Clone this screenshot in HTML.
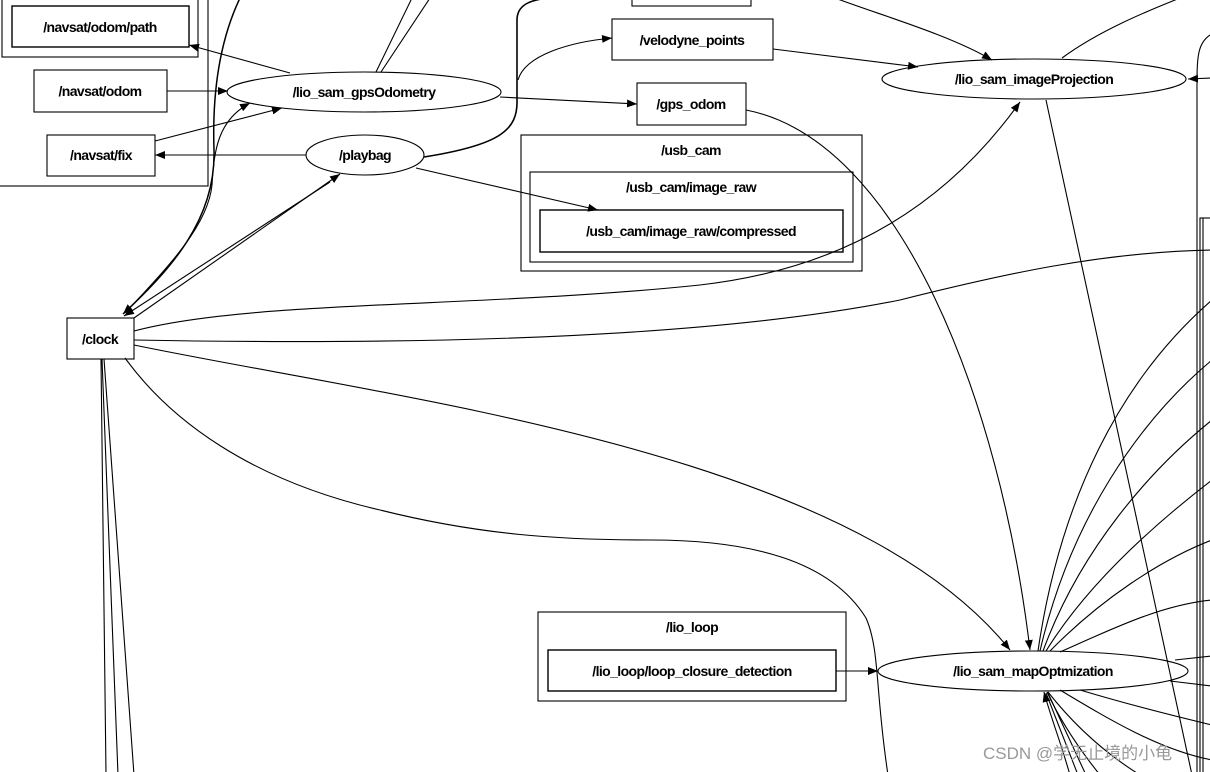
<!DOCTYPE html>
<html><head><meta charset="utf-8"><style>
html,body{margin:0;padding:0;background:#fff;width:1210px;height:772px;overflow:hidden}
svg text{font-family:"Liberation Sans",sans-serif;font-size:14px;font-weight:bold;letter-spacing:-0.6px;text-anchor:middle;fill:#000}
</style></head><body>
<svg width="1210" height="772" viewBox="0 0 1210 772" xmlns="http://www.w3.org/2000/svg">
<defs><marker id="a" markerWidth="10" markerHeight="8" refX="10" refY="4" orient="auto" markerUnits="userSpaceOnUse"><path d="M0,0 L10,4 L0,8 z" fill="#000"/></marker></defs>
<g fill="none" stroke="#000" stroke-width="1.1">
<rect x="-1" y="-1" width="209" height="187"/>
<rect x="2" y="-1" width="196" height="58"/>
<rect x="521" y="135" width="341" height="136"/>
<rect x="530" y="172" width="323" height="90"/>
<rect x="538" y="612" width="308" height="89"/>
<rect x="1200" y="218" width="20" height="560"/>
<rect x="12" y="6" width="177" height="41" stroke-width="1.4"/>
<rect x="34" y="70" width="133" height="42"/>
<rect x="47" y="135" width="108" height="41"/>
<rect x="632" y="-2" width="119" height="8"/>
<rect x="612" y="19" width="161" height="41"/>
<rect x="637" y="83" width="109" height="42"/>
<rect x="540" y="210" width="303" height="42" stroke-width="1.4"/>
<rect x="67" y="318" width="67" height="41"/>
<rect x="548" y="650" width="288" height="41" stroke-width="1.4"/>
<ellipse cx="364" cy="92" rx="137" ry="20"/>
<ellipse cx="365" cy="155" rx="59" ry="20"/>
<ellipse cx="1034" cy="79" rx="152" ry="20"/>
<ellipse cx="1033" cy="671" rx="155" ry="20"/>
<path d="M290,73 L189,45" marker-end="url(#a)"/>
<path d="M167,91 L228,91" marker-end="url(#a)"/>
<path d="M155,141 L282,108" marker-end="url(#a)"/>
<path d="M306,155 L155,155" marker-end="url(#a)"/>
<path d="M126,312 C170,265 208,225 212,185 C214,150 218,120 250,103" marker-end="url(#a)"/>
<path d="M240,-2 C220,40 212,90 214,150 C216,220 170,270 123,314" marker-end="url(#a)" stroke-width="1.5"/>
<path d="M330,182 L124,316" marker-end="url(#a)"/>
<path d="M134,318 L340,174" marker-end="url(#a)"/>
<path d="M376,72 L412,-2 M381,72 L430,-2"/>
<path d="M424,157 C500,145 518,130 517,100 L517,20 C517,5 530,0 548,-2" stroke-width="1.6"/>
<path d="M518,80 C525,55 570,42 612,38" marker-end="url(#a)"/>
<path d="M500,97 L637,104" marker-end="url(#a)"/>
<path d="M416,168 L598,210" marker-end="url(#a)"/>
<path d="M773,49 L918,67" marker-end="url(#a)"/>
<path d="M835,-2 C880,15 950,35 992,60" marker-end="url(#a)"/>
<path d="M1062,58 C1100,30 1150,10 1180,-2"/>
<path d="M1212,78 L1188,79" marker-end="url(#a)"/>
<path d="M134,331 C250,300 480,308 700,285 C850,268 950,200 1020,102" marker-end="url(#a)"/>
<path d="M134,340 C400,345 700,340 900,300 C1000,275 1100,252 1212,250"/>
<path d="M125,358 C170,420 250,480 380,510 C480,535 560,540 650,540 C750,540 830,560 866,618 C880,650 875,690 888,775"/>
<path d="M134,345 C400,400 850,450 1010,650" marker-end="url(#a)"/>
<path d="M746,110 C900,140 1000,400 1030,650" marker-end="url(#a)"/>
<path d="M1046,100 L1192,775"/>
<path d="M101,359 L106,775 M102,359 L118,775 M104,359 L134,775"/>
<path d="M1038,651 C1060,500 1120,380 1212,300"/>
<path d="M1040,651 C1070,520 1140,420 1212,360"/>
<path d="M1043,651 C1080,550 1150,470 1212,420"/>
<path d="M1046,651 C1090,580 1160,520 1212,480"/>
<path d="M1050,651 C1100,600 1160,560 1212,540"/>
<path d="M1060,652 C1110,630 1160,605 1212,600"/>
<path d="M1175,660 L1212,656 M1170,681 L1212,686"/>
<path d="M1080,690 C1130,705 1170,715 1212,725"/>
<path d="M1060,690 C1110,720 1160,750 1212,760"/>
<path d="M1048,692 C1070,720 1100,750 1140,775"/>
<path d="M1047,692 C1060,720 1080,750 1100,775"/>
<path d="M1070,775 C1060,740 1050,715 1044,692" marker-end="url(#a)"/>
<path d="M1078,775 L1046,693 M1086,775 L1048,693"/>
<path d="M836,671 L878,671" marker-end="url(#a)"/>
<path d="M1210,35 C1196,45 1197,60 1197,100 L1197,775"/>
<path d="M1203,218 L1203,775"/>
</g>
<text x="100" y="32">/navsat/odom/path</text>
<text x="100" y="96">/navsat/odom</text>
<text x="101" y="160">/navsat/fix</text>
<text x="364" y="97">/lio_sam_gpsOdometry</text>
<text x="365" y="160">/playbag</text>
<text x="692" y="45">/velodyne_points</text>
<text x="691" y="109">/gps_odom</text>
<text x="1034" y="84">/lio_sam_imageProjection</text>
<text x="691" y="155">/usb_cam</text>
<text x="691" y="192">/usb_cam/image_raw</text>
<text x="691" y="236">/usb_cam/image_raw/compressed</text>
<text x="100" y="344">/clock</text>
<text x="692" y="632">/lio_loop</text>
<text x="692" y="676">/lio_loop/loop_closure_detection</text>
<text x="1033" y="676">/lio_sam_mapOptmization</text>
<text x="983" y="759" style="text-anchor:start;font-family:'Liberation Sans','Noto Sans CJK SC',sans-serif;font-weight:normal;font-size:17px;letter-spacing:0;fill:#999">CSDN @学无止境的小龟</text>
</svg>
</body></html>
